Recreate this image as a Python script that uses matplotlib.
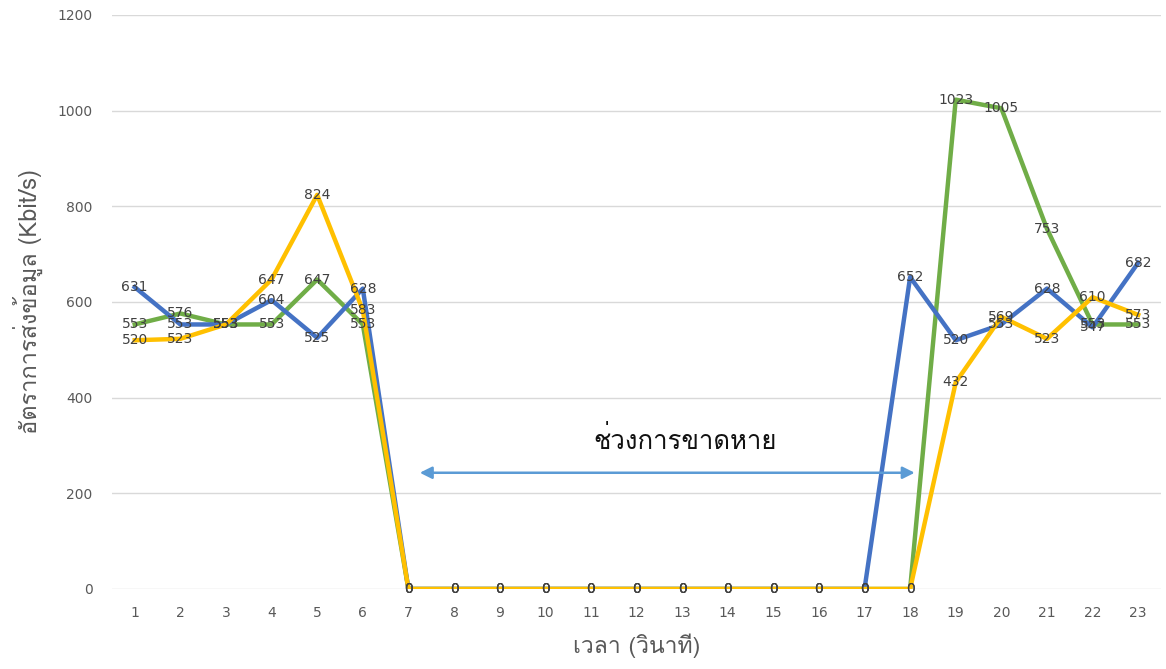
import matplotlib
matplotlib.use("Agg")
import matplotlib.pyplot as plt
from matplotlib import font_manager
from matplotlib.ft2font import FT2Font

seconds = list(range(1, 24))
blue = [631, 553, 553, 604, 525, 628, 0, 0, 0, 0, 0, 0, 0, 0, 0, 0, 0, 652, 520, 553, 628, 547, 682]
green = [553, 576, 553, 553, 647, 553, 0, 0, 0, 0, 0, 0, 0, 0, 0, 0, 0, 0, 1023, 1005, 753, 553, 553]
yellow = [520, 523, 553, 647, 824, 583, 0, 0, 0, 0, 0, 0, 0, 0, 0, 0, 0, 0, 432, 569, 523, 610, 573]

xlabel = "เวลา (วินาที)"
ylabel = "อัตราการส่งข้อมูล (Kbit/s)"
gap_text = "ช่วงการขาดหาย"


def find_thai_font():
    # look for any installed font that has Thai glyphs
    for f in font_manager.fontManager.ttflist:
        try:
            cmap = FT2Font(f.fname).get_charmap()
        except Exception:
            continue
        if 0x0E2A in cmap and 0x0E48 in cmap:
            return f.name
    return None


thai = find_thai_font()
families = ([thai] if thai else []) + ["DejaVu Sans"]
plt.rcParams['font.family'] = families

fig = plt.figure(figsize=(11.66, 6.69), dpi=100)
ax = fig.add_axes([0.096, 0.1196, 0.8997, 0.858])

series = [(green, "#70AD47", 2), (blue, "#4472C4", 3), (yellow, "#FFC000", 4)]
for vals, col, z in series:
    ax.plot(seconds, vals, color=col, linewidth=3.2, zorder=z)
for vals, col, z in series:
    for x, v in zip(seconds, vals):
        ax.text(x, v, str(v), ha="center", va="center", fontsize=10,
                color="#404040", zorder=10, family="DejaVu Sans")

ax.set_xlim(0.5, 23.5)
ax.set_ylim(0, 1200)
ax.set_yticks(range(0, 1201, 200))
ax.set_xticks(seconds)
ax.grid(axis="y", color="#d9d9d9", linewidth=1)
ax.set_axisbelow(True)
for s in ax.spines.values():
    s.set_visible(False)
ax.tick_params(axis="both", length=0, labelsize=10, labelcolor="#595959", pad=12)
ax.tick_params(axis="y", pad=14)
for lab in ax.get_xticklabels() + ax.get_yticklabels():
    lab.set_family("DejaVu Sans")

ax.set_xlabel(xlabel, fontsize=16.5, color="#595959", labelpad=10)
ax.set_ylabel(ylabel, fontsize=17, color="#595959", labelpad=10)

ax.annotate("", xy=(7.25, 243), xytext=(18.1, 243),
            arrowprops=dict(arrowstyle="<|-|>", color="#5B9BD5", lw=1.8,
                            mutation_scale=18, shrinkA=0, shrinkB=0), zorder=6)
ax.text(13.07, 312, gap_text, ha="center", va="center", fontsize=18.5, color="#111111")

fig.savefig("out.png", dpi=100)
